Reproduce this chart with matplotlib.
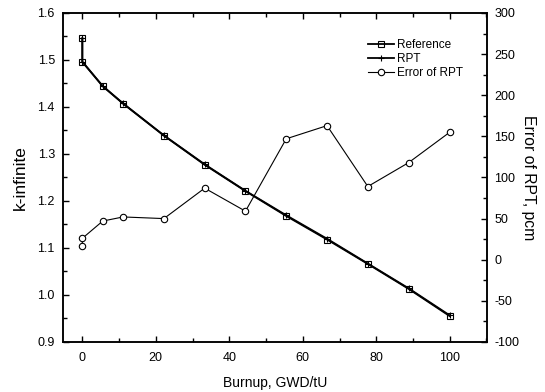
import matplotlib
matplotlib.use("Agg")
import matplotlib.pyplot as plt
from matplotlib.ticker import MultipleLocator, FormatStrFormatter

plt.rcParams["font.family"] = ["Liberation Sans", "DejaVu Sans"]
plt.rcParams["axes.unicode_minus"] = False

# burnup points (GWD/tU); first two are both at zero burnup
burnup = [0, 0, 5.55, 11.1, 22.2, 33.3, 44.4, 55.5, 66.6, 77.7, 88.8, 100]
k_reference = [1.546, 1.496, 1.444, 1.407, 1.339, 1.277, 1.221, 1.168, 1.118, 1.066, 1.013, 0.955]
k_rpt = [1.5462, 1.4963, 1.4445, 1.4075, 1.3395, 1.2779, 1.2216, 1.1695, 1.1196, 1.0669, 1.0142, 0.9566]
error_pcm = [17, 26, 47, 52, 50, 87, 59, 147, 163, 89, 118, 155]

fig = plt.figure(figsize=(5.45, 3.92), dpi=100)
ax = fig.add_axes([0.116, 0.1276, 0.778, 0.8394])
ax2 = ax.twinx()

l1, = ax.plot(burnup, k_reference, color="black", lw=1.3, marker="s", ms=4.5,
              mfc="none", mec="black", mew=0.8, label="Reference")
l2, = ax.plot(burnup, k_rpt, color="black", lw=1.3, marker="+", ms=5,
              mew=0.8, label="RPT")
l3, = ax2.plot(burnup, error_pcm, color="black", lw=0.8, marker="o", ms=4.6,
               mfc="white", mec="black", mew=0.8, label="Error of RPT")

ax.set_xlim(-5.2, 110.2)
ax.set_ylim(0.9, 1.6)
ax2.set_ylim(-100, 300)

ax.xaxis.set_major_locator(MultipleLocator(20))
ax.xaxis.set_minor_locator(MultipleLocator(10))
ax.yaxis.set_major_locator(MultipleLocator(0.1))
ax.yaxis.set_minor_locator(MultipleLocator(0.05))
ax.yaxis.set_major_formatter(FormatStrFormatter("%.1f"))
ax2.yaxis.set_major_locator(MultipleLocator(50))
ax2.yaxis.set_minor_locator(MultipleLocator(25))

ax.tick_params(which="both", direction="in", top=True, right=False, labelsize=9, width=1)
ax.tick_params(which="major", length=4.5)
ax.tick_params(which="minor", length=3)
ax.tick_params(axis="y", pad=6)
ax.tick_params(axis="x", pad=7)
ax2.tick_params(which="both", direction="in", labelsize=9, width=1, pad=5)
ax2.tick_params(which="major", length=4.5)
ax2.tick_params(which="minor", length=3)

for a in (ax, ax2):
    for s in a.spines.values():
        s.set_linewidth(1.1)

ax.set_xlabel("Burnup, GWD/tU", fontsize=10, labelpad=9)
ax.set_ylabel("k-infinite", fontsize=12.5, labelpad=7)
ax2.set_ylabel("Error of RPT, pcm", fontsize=11.3, rotation=-90, labelpad=12)

fig.legend(handles=[l1, l2, l3], loc="upper left", bbox_to_anchor=(0.665, 0.915),
           frameon=False, fontsize=8.5, handlelength=2.2, labelspacing=0.15,
           handletextpad=0.2, borderpad=0)

fig.savefig("out.png", dpi=100)
